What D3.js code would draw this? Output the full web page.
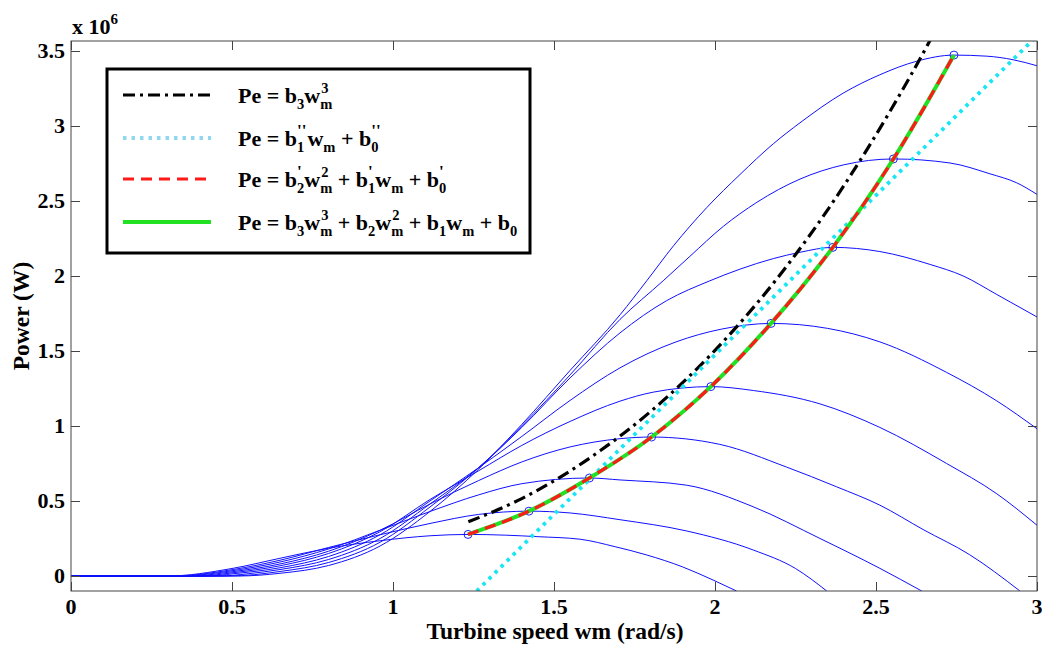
<!DOCTYPE html>
<html><head><meta charset="utf-8">
<script src="https://cdn.jsdelivr.net/npm/d3@7"></script>
<style>
body{margin:0;background:#fff}
svg{display:block}
text{font-family:"Liberation Serif","Times New Roman",serif;font-weight:bold;fill:#000}
</style>
</head><body>
<svg id="chart" width="1042" height="647"></svg>
<script>
// ---------- data ----------
const xTicks = [0, 0.5, 1, 1.5, 2, 2.5, 3];
const xTickLabels = ["0", "0.5", "1", "1.5", "2", "2.5", "3"];
const yTicks = [0, 0.5, 1, 1.5, 2, 2.5, 3, 3.5];
const yTickLabels = ["0", "0.5", "1", "1.5", "2", "2.5", "3", "3.5"];

// turbine power curves, [speed wm (rad/s), power (x1e6 W)]
const curve1 = [[0,0],[0.3,0],[0.5,0.05],[0.649,0.118],[0.8,0.185],[0.96,0.235],[1.115,0.268],[1.233,0.277],[1.35,0.272],[1.45,0.262],[1.581,0.245],[1.69,0.195],[1.788,0.14],[1.9,0.06],[1.994,-0.027],[2.067,-0.1]];
const curve2 = [[0,0],[0.32,0],[0.5,0.042],[0.649,0.105],[0.8,0.19],[0.96,0.275],[1.115,0.35],[1.265,0.41],[1.422,0.432],[1.55,0.42],[1.705,0.375],[1.912,0.3],[2.119,0.173],[2.25,0.05],[2.347,-0.1]];
const curve3 = [[0,0],[0.34,0],[0.5,0.035],[0.649,0.093],[0.8,0.18],[0.96,0.305],[1.115,0.43],[1.265,0.54],[1.4,0.615],[1.61,0.653],[1.705,0.64],[1.912,0.605],[2.119,0.461],[2.326,0.25],[2.512,0.051],[2.642,-0.1]];
const curve4 = [[0,0],[0.37,0],[0.5,0.028],[0.649,0.08],[0.8,0.165],[0.96,0.305],[1.115,0.48],[1.265,0.635],[1.4,0.76],[1.55,0.86],[1.705,0.915],[1.803,0.926],[2.015,0.877],[2.222,0.726],[2.378,0.594],[2.512,0.472],[2.646,0.31],[2.79,0.143],[2.947,-0.1]];
const curve5 = [[0,0],[0.4,0],[0.5,0.021],[0.649,0.068],[0.8,0.15],[0.96,0.295],[1.115,0.51],[1.265,0.7],[1.4,0.87],[1.55,1.03],[1.705,1.165],[1.808,1.225],[1.987,1.262],[2.119,1.236],[2.326,1.147],[2.512,0.99],[2.719,0.75],[2.875,0.548],[3.0,0.338]];
const curve6 = [[0,0],[0.43,0],[0.5,0.014],[0.649,0.055],[0.8,0.13],[0.96,0.275],[1.115,0.5],[1.265,0.72],[1.4,0.93],[1.55,1.17],[1.705,1.387],[1.879,1.56],[2.02,1.645],[2.174,1.683],[2.35,1.65],[2.512,1.56],[2.719,1.357],[2.875,1.167],[3.0,0.981]];
const curve7 = [[0,0],[0.46,0],[0.55,0.015],[0.649,0.043],[0.8,0.11],[0.96,0.25],[1.115,0.48],[1.265,0.72],[1.4,0.99],[1.55,1.32],[1.705,1.62],[1.85,1.835],[1.984,1.967],[2.078,2.045],[2.181,2.115],[2.264,2.157],[2.366,2.19],[2.512,2.162],[2.668,2.076],[2.77,2.0],[2.875,1.876],[3.0,1.726]];
const curve8 = [[0,0],[0.49,0],[0.649,0.03],[0.8,0.09],[0.96,0.225],[1.115,0.46],[1.265,0.72],[1.4,1.0],[1.55,1.34],[1.705,1.71],[1.839,1.967],[1.922,2.13],[2.026,2.33],[2.13,2.49],[2.264,2.645],[2.4,2.74],[2.554,2.779],[2.73,2.752],[2.854,2.68],[2.937,2.62],[3.0,2.543]];
const curve9 = [[0,0],[0.52,0],[0.649,0.018],[0.8,0.07],[0.96,0.2],[1.115,0.43],[1.265,0.71],[1.4,1.01],[1.55,1.37],[1.705,1.74],[1.788,1.967],[1.871,2.2],[1.974,2.454],[2.078,2.676],[2.181,2.88],[2.264,3.02],[2.4,3.22],[2.512,3.34],[2.626,3.43],[2.742,3.471],[2.844,3.464],[2.926,3.44],[3.0,3.4]];

// maximum power points (circles)
const peaks = [[1.233,0.277],[1.422,0.432],[1.61,0.653],[1.803,0.926],[1.987,1.262],[2.174,1.683],[2.366,2.19],[2.554,2.779],[2.742,3.471]];

// fitted characteristics
const fitCubicOnly = [[1.234,0.361],[1.4,0.516],[1.643,0.834],[1.8,1.096],[2.0,1.504],[2.181,1.95],[2.4,2.6],[2.55,3.12],[2.668,3.57],[2.7,3.7]];
const fitLinear = [[1.26,-0.1],[3.0,3.6]];
const fitQuadratic = [[1.233,0.277],[1.422,0.432],[1.61,0.653],[1.803,0.926],[1.987,1.262],[2.174,1.683],[2.366,2.19],[2.554,2.779],[2.742,3.471]];
const fitCubicFull = [[1.233,0.277],[1.422,0.432],[1.61,0.653],[1.803,0.926],[1.987,1.262],[2.174,1.683],[2.366,2.19],[2.554,2.779],[2.742,3.471]];

// ---------- layout ----------
const svg = d3.select("#chart");
const L = 71, R = 1037, T = 41, B = 591;
const x = d3.scaleLinear().domain([0, 3]).range([L, R]);
const y = d3.scaleLinear().domain([-0.1, 3.565]).range([B, T]);

svg.append("defs").append("clipPath").attr("id","plotClip")
  .append("rect").attr("x",L).attr("y",T).attr("width",R-L).attr("height",B-T);

const plot = svg.append("g").attr("clip-path","url(#plotClip)");
const line = d3.line().x(d=>x(d[0])).y(d=>y(d[1])).curve(d3.curveMonotoneX);
const straight = d3.line().x(d=>x(d[0])).y(d=>y(d[1]));

[curve1,curve2,curve3,curve4,curve5,curve6,curve7,curve8,curve9].forEach(c=>{
  plot.append("path").attr("d",line(c)).attr("fill","none")
    .attr("stroke","#1010ff").attr("stroke-width",1);
});
plot.selectAll("circle.pk").data(peaks).enter().append("circle")
  .attr("cx",d=>x(d[0])).attr("cy",d=>y(d[1])).attr("r",4)
  .attr("fill","none").attr("stroke","#2020ff").attr("stroke-width",1);

plot.append("path").attr("d",line(fitCubicOnly)).attr("fill","none")
  .attr("stroke","#000").attr("stroke-width",3.2).attr("stroke-dasharray","12,5,3,5");
plot.append("path").attr("d",straight(fitLinear)).attr("fill","none")
  .attr("stroke","#18e6f4").attr("stroke-width",3.8).attr("stroke-dasharray","3.5,5");
plot.append("path").attr("d",line(fitCubicFull)).attr("fill","none")
  .attr("stroke","#22e022").attr("stroke-width",4);
plot.append("path").attr("d",line(fitQuadratic)).attr("fill","none")
  .attr("stroke","#ff1a1a").attr("stroke-width",3.2).attr("stroke-dasharray","11,7");

// ---------- axes ----------
const ax = svg.append("g");
ax.append("rect").attr("x",L).attr("y",T).attr("width",R-L).attr("height",B-T)
  .attr("fill","none").attr("stroke","#444").attr("stroke-width",1);
const tl = 9;
xTicks.forEach((t,i)=>{
  const px = Math.round(x(t))+0.5;
  ax.append("line").attr("x1",px).attr("x2",px).attr("y1",B).attr("y2",B-tl).attr("stroke","#444");
  ax.append("line").attr("x1",px).attr("x2",px).attr("y1",T).attr("y2",T+tl).attr("stroke","#444");
  ax.append("text").attr("x",x(t)).attr("y",B+23).attr("text-anchor","middle")
    .attr("font-size",22).text(xTickLabels[i]);
});
yTicks.forEach((t,i)=>{
  const py = Math.round(y(t))+0.5;
  ax.append("line").attr("x1",L).attr("x2",L+tl).attr("y1",py).attr("y2",py).attr("stroke","#444");
  ax.append("line").attr("x1",R).attr("x2",R-tl).attr("y1",py).attr("y2",py).attr("stroke","#444");
  ax.append("text").attr("x",L-6).attr("y",y(t)+7).attr("text-anchor","end")
    .attr("font-size",22).text(yTickLabels[i]);
});
// exponent
const ex = svg.append("text").attr("x",72).attr("y",34).attr("font-size",22);
ex.append("tspan").text("x 10");
ex.append("tspan").attr("font-size",15).attr("dy",-10).text("6");

svg.append("text").attr("x",(L+R)/2 + 1).attr("y",639).attr("text-anchor","middle")
  .attr("font-size",23.5).text("Turbine speed wm (rad/s)");
svg.append("text").attr("transform","translate(29,"+((T+B)/2)+") rotate(-90)")
  .attr("text-anchor","middle").attr("font-size",23.5).text("Power (W)");

// ---------- legend ----------
const lg = svg.append("g");
lg.append("rect").attr("x",107).attr("y",69).attr("width",423).attr("height",184)
  .attr("fill","#fff").attr("stroke","#000").attr("stroke-width",3);

const rows = [
  {y:95, stroke:"#000", w:3.2, dash:"12,5,3,5",
   parts:[["t","Pe = b"],["sub","3"],["t","w"],["ss","m","3"]]},
  {y:138, stroke:"#8fd8f0", w:3.8, dash:"3.5,5",
   parts:[["t","Pe = b"],["ss","1","''"],["t","w"],["sub","m"],["t"," + b"],["ss","0","''"]]},
  {y:179, stroke:"#ff1a1a", w:3.2, dash:"11,7",
   parts:[["t","Pe = b"],["ss","2","'"],["t","w"],["ss","m","2"],["t"," + b"],["ss","1","'"],["t","w"],["sub","m"],["t"," + b"],["ss","0","'"]]},
  {y:222, stroke:"#22e022", w:4, dash:null,
   parts:[["t","Pe = b"],["sub","3"],["t","w"],["ss","m","3"],["t"," + b"],["sub","2"],["t","w"],["ss","m","2"],["t"," + b"],["sub","1"],["t","w"],["sub","m"],["t"," + b"],["sub","0"]]}
];
const FS = 22, SS = 14.5;
rows.forEach(r=>{
  const l = lg.append("line").attr("x1",123).attr("x2",211).attr("y1",r.y).attr("y2",r.y)
    .attr("stroke",r.stroke).attr("stroke-width",r.w);
  if (r.dash) l.attr("stroke-dasharray",r.dash);
  let cx = 238; const base = r.y + 8;
  const put = (s, size, dy) => {
    const t = lg.append("text").attr("x",cx).attr("y",base+dy).attr("font-size",size)
      .attr("xml:space","preserve").style("white-space","pre").text(s);
    return t.node().getComputedTextLength();
  };
  r.parts.forEach(p=>{
    if (p[0]==="t") cx += put(p[1], FS, 0);
    else if (p[0]==="sub") cx += put(p[1], SS, 6);
    else if (p[0]==="ss") {
      const start = cx;
      const w1 = put(p[1], SS, 6);
      cx = start + (p[2].indexOf("'")>=0 ? 0 : 1);
      const w2 = put(p[2], p[2].indexOf("'")>=0 ? 17 : SS, -10);
      cx = start + Math.max(w1, w2 + 1);
    }
  });
});
</script>
</body></html>
